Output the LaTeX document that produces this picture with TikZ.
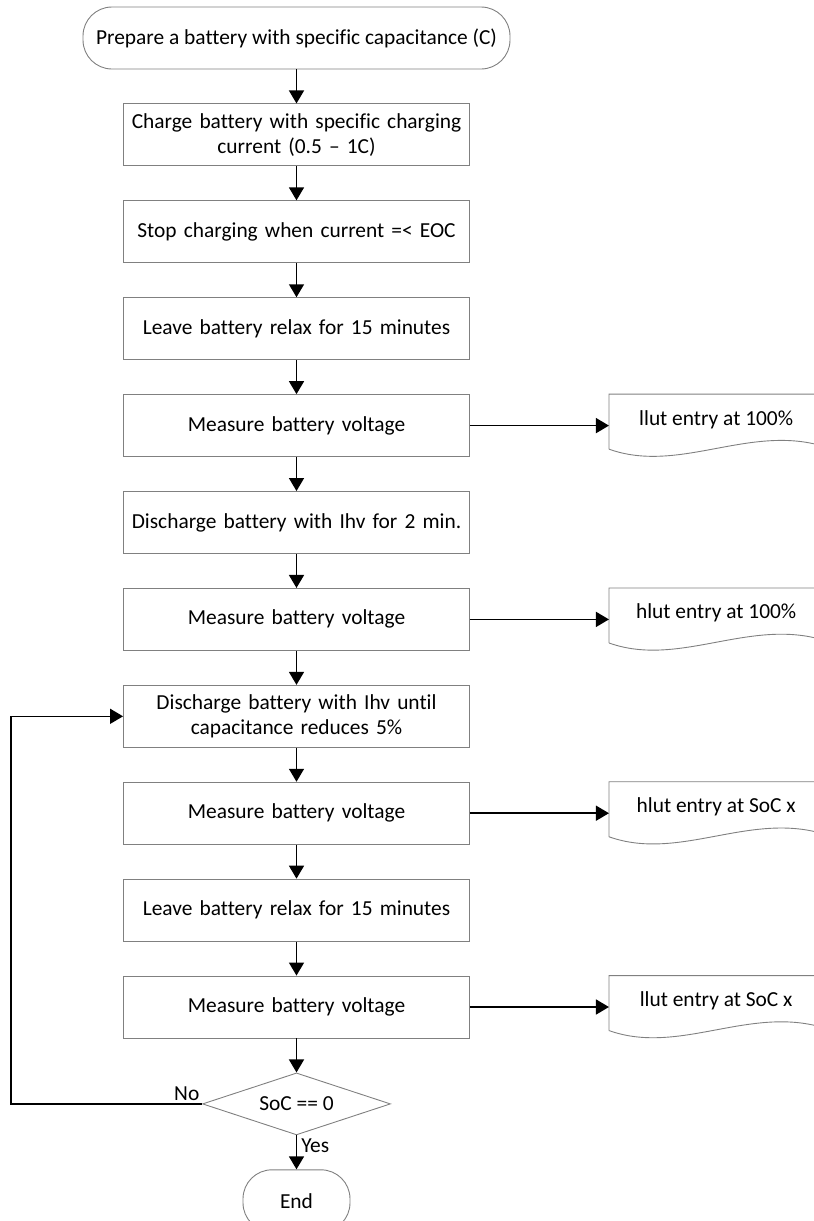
\documentclass[tikz,border=0pt]{standalone}
\usepackage{fontspec}
\setmainfont{Carlito}[Ligatures={TeX,NoCommon}]
\usetikzlibrary{shapes.geometric,arrows.meta,positioning,calc}
\definecolor{boxgray}{HTML}{808080}

\tikzset{
  txt/.style={font=\fontsize{21.4}{25.5}\selectfont, align=center},
  base/.style={txt, draw=boxgray, line width=0.9pt, inner sep=2pt},
  proc/.style={base, rectangle, minimum width=346pt, minimum height=62pt, text width=336pt},
  term/.style={base, rectangle, rounded corners=29pt, minimum height=62pt},
  cond/.style={base, diamond, aspect=3, inner sep=0pt, minimum width=188pt, minimum height=62pt},
  doc/.style={txt, minimum width=214pt, minimum height=50pt, inner sep=0pt},
  arr/.style={-{Triangle[length=13pt,width=15pt]}, line width=1.5pt},
}

\begin{document}
\begin{tikzpicture}[x=1pt, y=1pt, node distance=34pt]
  \useasboundingbox (0,0) rectangle (814,-1221);

  % main column
  \node[term, minimum width=427pt] (start) at (296.5,-38) {Prepare a battery with specific capacitance (C)};
  \node[proc, below=of start] (charge) {Charge battery with specific charging\\current (0.5 -- 1C)};
  \node[proc, below=of charge] (stop) {Stop charging when current =< EOC};
  \node[proc, below=of stop] (relax1) {Leave battery relax for 15 minutes};
  \node[proc, below=of relax1] (meas1) {Measure battery voltage};
  \node[proc, below=of meas1] (disch1) {Discharge battery with Ihv for 2 min.};
  \node[proc, below=of disch1] (meas2) {Measure battery voltage};
  \node[proc, below=of meas2] (disch2) {Discharge battery with Ihv until\\capacitance reduces 5\%};
  \node[proc, below=of disch2] (meas3) {Measure battery voltage};
  \node[proc, below=of meas3] (relax2) {Leave battery relax for 15 minutes};
  \node[proc, below=of relax2] (meas4) {Measure battery voltage};
  \node[cond, below=of meas4] (soc) {SoC == 0};
  \node[term, minimum width=107pt, below=of soc] (stopend) {End};

  % lookup table entries
  \node[doc, anchor=north west] (llutA) at ($(meas1.north east)+(139,0)$) {llut entry at 100\%};
  \node[doc, anchor=north west] (hlutA) at ($(meas2.north east)+(139,0)$) {hlut entry at 100\%};
  \node[doc, anchor=north west] (hlutX) at ($(meas3.north east)+(139,0)$) {hlut entry at SoC x};
  \node[doc, anchor=north west] (llutX) at ($(meas4.north east)+(139,0)$) {llut entry at SoC x};

  \foreach \d in {llutA,hlutA,hlutX,llutX}
    \draw[boxgray, line width=0.9pt] ($(\d.north west)+(0,-55)$) -- (\d.north west) -- (\d.north east)
      -- ($(\d.north west)+(214,-52)$) .. controls ($(\d.north west)+(140,-30)$) and ($(\d.north west)+(70,-80)$) .. ($(\d.north west)+(0,-55)$);

  % arrows
  \draw[arr] (start) -- (charge);
  \draw[arr] (charge) -- (stop);
  \draw[arr] (stop) -- (relax1);
  \draw[arr] (relax1) -- (meas1);
  \draw[arr] (meas1) -- (disch1);
  \draw[arr] (disch1) -- (meas2);
  \draw[arr] (meas2) -- (disch2);
  \draw[arr] (disch2) -- (meas3);
  \draw[arr] (meas3) -- (relax2);
  \draw[arr] (relax2) -- (meas4);
  \draw[arr] (meas4) -- (soc);
  \draw[arr] (soc) -- node[txt, right, pos=0.3, inner sep=4pt] {Yes} (stopend);

  \draw[arr] (meas1.east) -- (meas1.east -| llutA.west);
  \draw[arr] (meas2.east) -- (meas2.east -| hlutA.west);
  \draw[arr] (meas3.east) -- (meas3.east -| hlutX.west);
  \draw[arr] (meas4.east) -- (meas4.east -| llutX.west);

  % loop back
  \coordinate (loop) at (11,-900);
  \draw[arr] (soc.west) -| node[txt, above, pos=0.04, inner sep=3pt] {No} (loop) |- (disch2.west);
\end{tikzpicture}
\end{document}
